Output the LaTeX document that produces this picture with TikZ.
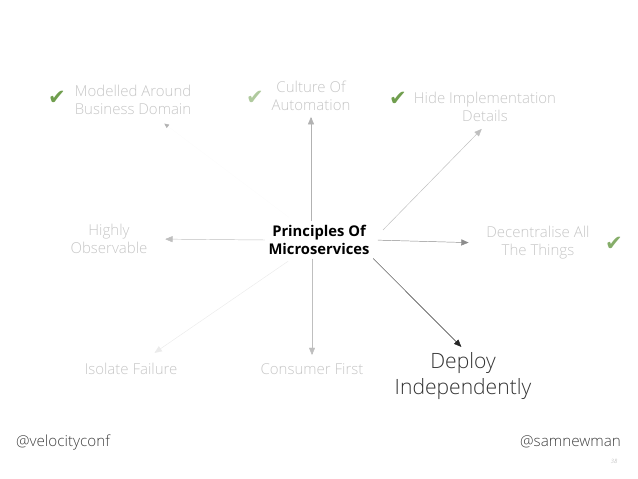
\documentclass[tikz,border=0pt]{standalone}
\usepackage{fontspec}
\setmainfont{Open Sans}
\newfontfamily\thin{Open Sans Light}
\newfontfamily\symb{DejaVu Sans}
\usetikzlibrary{arrows,arrows.meta}
\definecolor{idea}{RGB}{198,198,198}
\definecolor{tick}{RGB}{112,158,78}

\begin{document}
\begin{tikzpicture}[x=0.03cm,y=-0.03cm,>=triangle 45,
    idea/.style={align=center,text=idea,inner sep=3pt,font=\thin\fontsize{12.8}{15.5}\selectfont},
    core/.style={align=center,inner sep=3pt,font=\bfseries\fontsize{12.6}{15.5}\selectfont},
    check/.style={text=tick,font=\symb\fontsize{18}{18}\selectfont}]
    \useasboundingbox (0,0) rectangle (638,479);
    \node[core] (0) at (319,240) {Principles Of\\Microservices};
    \node[idea] (1) at (133,100) {Modelled Around\\Business Domain};
    \node[idea] (2) at (311,96) {Culture Of\\Automation};
    \node[idea] (3) at (485,107) {Hide Implementation\\Details};
    \node[idea] (4) at (538,243) {Decentralise All\\The Things};
    \node[idea,text=black!80,font=\thin\fontsize{18}{22.5}\selectfont] (5) at (463,376) {Deploy\\Independently};
    \node[idea] (6) at (109,239) {Highly\\Observable};
    \node[idea] (7) at (312,369) {Consumer First};
    \node[idea] (8) at (131,369) {Isolate Failure};
    \node[check] (9) at (57,98) {✔};
    \node[check,text=tick!55] (10) at (255,98) {✔};
    \node[check] (11) at (398,99) {✔};
    \node[check,text=tick!85] (12) at (614,244) {✔};
    \node[anchor=west,text=black!75,font=\thin\fontsize{13}{15}\selectfont] (13) at (12,442) {@velocityconf};
    \node[anchor=east,text=black!75,font=\thin\fontsize{13}{15}\selectfont] (14) at (625,442) {@samnewman};
    \node[text=black!35,font=\thin\itshape\fontsize{5}{6}\selectfont] (15) at (614,461) {38};
    \path[-{Triangle[color=black!30,length=4pt,width=3.5pt]},black!1,shorten <=6pt,shorten >=7pt](0) edge node {} (1);
    \path[->,black!30,shorten >=2pt](0.north -| 2) edge node {} (2);
    \path[->,black!25,shorten <=12pt,shorten >=4pt](0.east) edge node {} (3.south);
    \path[->,black!45,shorten <=4pt,shorten >=12pt](0.east) edge node {} (4.west);
    \path[->,black!85,shorten >=2pt](0.south east) edge node {} (5.north);
    \path[->,black!25,shorten >=12pt](0.west) edge node {} (6.east);
    \path[->,black!25,shorten >=4pt](0.south -| 7) edge node {} (7);
    \path[->,black!8,shorten <=4pt,shorten >=10pt](0) edge node {} (8);
\end{tikzpicture}
\end{document}
